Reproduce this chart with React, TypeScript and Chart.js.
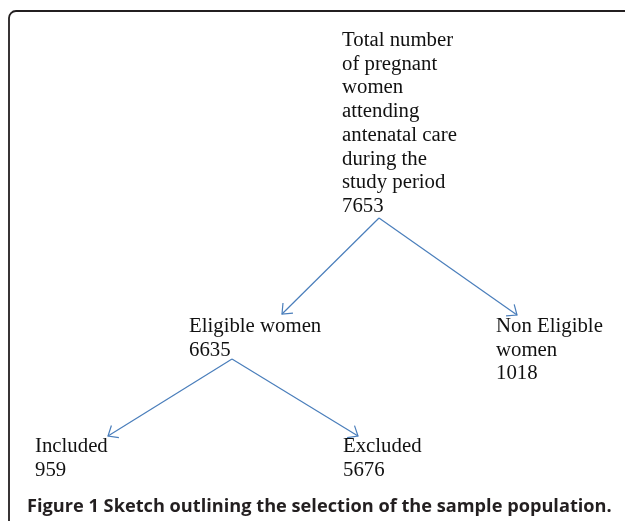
import React, { useEffect, useRef } from "react";
import { Chart, registerables } from "chart.js";

Chart.register(...registerables);

// ---- data ----
const nodeLines: string[][] = [
  ["Total number", "of pregnant", "women", "attending", "antenatal care", "during the", "study period"],
  ["Eligible women"],
  ["Non Eligible", "women"],
  ["Included"],
  ["Excluded"],
];
const nodeValues = [7653, 6635, 1018, 959, 5676];
const edgeFrom = [0, 0, 1, 1];
const edgeTo = [1, 2, 3, 4];
const captionText = "Figure 1 Sketch outlining the selection of the sample population.";

// ---- layout (scale units = pixels) ----
const nodeTextX = [342, 189, 496, 35, 343];
const nodeTextY = [46, 332, 332, 452, 452];
const nodeOutX = [379, 232, 0, 0, 0];
const nodeOutY = [218, 359, 0, 0, 0];
const nodeInX = [0, 282, 517, 108, 358];
const nodeInY = [0, 314, 315, 436, 436];

const W = 625;
const H = 521;
const LINE_H = 23.7;
const ARROW = "#4a7ebb";

const flowPlugin = {
  id: "flowText",
  afterDatasetsDraw(chart: any) {
    const { ctx, scales } = chart;
    const xs = scales.x;
    const ys = scales.y;
    ctx.save();
    // frame
    ctx.strokeStyle = "#231f20";
    ctx.lineWidth = 1.8;
    ctx.beginPath();
    const fx = xs.getPixelForValue(9);
    const fy = ys.getPixelForValue(11);
    const r = 7;
    ctx.moveTo(fx, ys.getPixelForValue(H + 5));
    ctx.lineTo(fx, fy + r);
    ctx.arcTo(fx, fy, fx + r, fy, r);
    ctx.lineTo(xs.getPixelForValue(W + 5), fy);
    ctx.stroke();

    // arrowheads
    ctx.strokeStyle = ARROW;
    ctx.lineWidth = 1.2;
    chart.data.datasets.forEach((_: any, i: number) => {
      const meta = chart.getDatasetMeta(i);
      const pts = meta.data;
      if (pts.length < 2) return;
      const a = pts[0];
      const b = pts[1];
      const ang = Math.atan2(a.y - b.y, a.x - b.x);
      const len = 11;
      const spread = 0.7;
      ctx.beginPath();
      ctx.moveTo(b.x + len * Math.cos(ang + spread), b.y + len * Math.sin(ang + spread));
      ctx.lineTo(b.x, b.y);
      ctx.lineTo(b.x + len * Math.cos(ang - spread), b.y + len * Math.sin(ang - spread));
      ctx.stroke();
    });

    // node text
    ctx.fillStyle = "#111";
    ctx.textBaseline = "alphabetic";
    ctx.textAlign = "left";
    ctx.font = '20.8px "Liberation Serif", "Times New Roman", serif';
    nodeLines.forEach((lines, i) => {
      const all = [...lines, String(nodeValues[i])];
      const px = xs.getPixelForValue(nodeTextX[i]);
      all.forEach((t, j) => {
        const py = ys.getPixelForValue(nodeTextY[i] + j * LINE_H);
        ctx.fillText(t, px, py);
      });
    });

    // caption
    ctx.fillStyle = "#231f20";
    ctx.font = 'bold 18.2px "Open Sans", "Noto Sans", sans-serif';
    ctx.fillText(captionText, xs.getPixelForValue(27), ys.getPixelForValue(512));
    ctx.restore();
  },
};

export default function App() {
  const ref = useRef<HTMLCanvasElement | null>(null);
  useEffect(() => {
    if (!ref.current) return;
    const datasets = edgeFrom.map((f, i) => {
      const t = edgeTo[i];
      return {
        label: `edge${i}`,
        data: [
          { x: nodeOutX[f], y: nodeOutY[f] },
          { x: nodeInX[t], y: nodeInY[t] },
        ],
        borderColor: ARROW,
        borderWidth: 1.2,
        pointRadius: 0,
        showLine: true,
        fill: false,
      };
    });
    const chart = new Chart(ref.current, {
      type: "scatter",
      data: { datasets },
      options: {
        animation: false,
        responsive: false,
        layout: { padding: 0 },
        plugins: { legend: { display: false }, tooltip: { enabled: false } },
        scales: {
          x: { type: "linear", min: 0, max: W, display: false },
          y: { type: "linear", min: 0, max: H, reverse: true, display: false },
        },
      },
      plugins: [flowPlugin],
    });
    return () => chart.destroy();
  }, []);
  return (
    <div style={{ position: "absolute", left: 0, top: 0, width: W, height: H, background: "#fff" }}>
      <canvas ref={ref} width={W} height={H} style={{ display: "block" }} />
    </div>
  );
}
